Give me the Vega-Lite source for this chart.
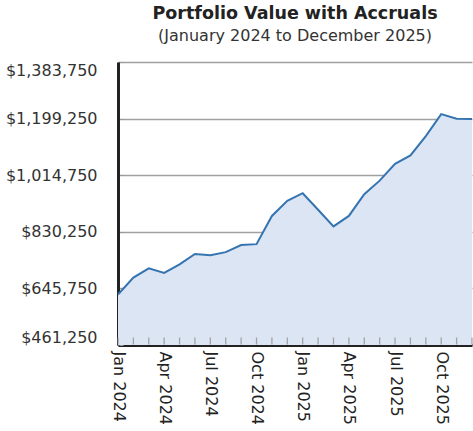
{
  "$schema": "https://vega.github.io/schema/vega-lite/v6.json",
  "width": 354,
  "height": 283,
  "autosize": {"type": "none"},
  "padding": {"top": 62, "left": 118, "right": 1, "bottom": 86},
  "background": "white",
  "title": {
    "text": "Portfolio Value with Accruals",
    "subtitle": "(January 2024 to December 2025)",
    "anchor": "middle",
    "font": "DejaVu Sans",
    "fontSize": 17.5,
    "fontWeight": "bold",
    "color": "#222222",
    "subtitleFont": "DejaVu Sans",
    "subtitleFontSize": 16,
    "subtitleColor": "#333333",
    "subtitlePadding": 5,
    "offset": 18
  },
  "config": {
    "view": {"stroke": null},
    "font": "DejaVu Sans"
  },
  "data": {
    "values": [
      {"month": "Jan 2024", "value": 626000},
      {"month": "Feb 2024", "value": 681000},
      {"month": "Mar 2024", "value": 711000},
      {"month": "Apr 2024", "value": 696000},
      {"month": "May 2024", "value": 724000},
      {"month": "Jun 2024", "value": 758000},
      {"month": "Jul 2024", "value": 754000},
      {"month": "Aug 2024", "value": 764000},
      {"month": "Sep 2024", "value": 787000},
      {"month": "Oct 2024", "value": 790000},
      {"month": "Nov 2024", "value": 882000},
      {"month": "Dec 2024", "value": 931000},
      {"month": "Jan 2025", "value": 956000},
      {"month": "Feb 2025", "value": 902000},
      {"month": "Mar 2025", "value": 848000},
      {"month": "Apr 2025", "value": 882000},
      {"month": "May 2025", "value": 953000},
      {"month": "Jun 2025", "value": 997000},
      {"month": "Jul 2025", "value": 1052000},
      {"month": "Aug 2025", "value": 1079000},
      {"month": "Sep 2025", "value": 1142000},
      {"month": "Oct 2025", "value": 1214000},
      {"month": "Nov 2025", "value": 1199000},
      {"month": "Dec 2025", "value": 1198000}
    ]
  },
  "encoding": {
    "x": {
      "field": "month",
      "type": "ordinal",
      "sort": null,
      "scale": {"type": "point", "padding": 0},
      "axis": {
        "title": null,
        "values": ["Jan 2024", "Apr 2024", "Jul 2024", "Oct 2024", "Jan 2025", "Apr 2025", "Jul 2025", "Oct 2025"],
        "labelAngle": 90,
        "labelFontSize": 16,
        "labelColor": "#222222",
        "labelPadding": 6,
        "domainColor": "#222222",
        "domainWidth": 3,
        "ticks": false,
        "grid": false
      }
    },
    "y": {
      "field": "value",
      "type": "quantitative",
      "scale": {"domain": [461250, 1383750], "nice": false, "zero": false},
      "axis": {
        "title": null,
        "values": [461250, 645750, 830250, 1014750, 1199250, 1383750],
        "format": "$,.0f",
        "labelFontSize": 16,
        "labelColor": "#333333",
        "labelFlush": true,
        "labelPadding": 26,
        "domainColor": "#222222",
        "domainWidth": 3,
        "tickSize": -5,
        "tickColor": "#999999",
        "grid": true,
        "gridColor": "#a0a0a0",
        "gridWidth": 1.5
      }
    }
  },
  "layer": [
    {
      "mark": {"type": "area", "color": "#dce5f4", "opacity": 1},
      "encoding": {
        "y2": {"datum": 461250}
      }
    },
    {
      "mark": {"type": "line", "color": "#3574b1", "strokeWidth": 2}
    },
    {
      "mark": {"type": "tick", "orient": "vertical", "color": "#888888", "thickness": 1.3, "size": 7, "yOffset": -4},
      "encoding": {
        "y": {"datum": 461250, "type": "quantitative"}
      }
    }
  ]
}
